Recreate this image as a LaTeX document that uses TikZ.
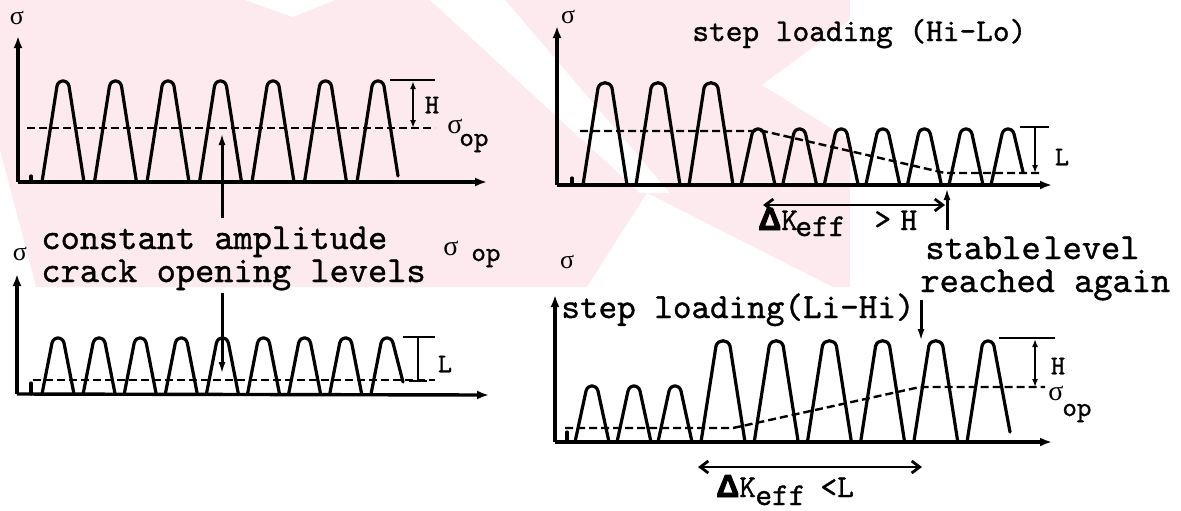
\documentclass[tikz,border=0pt]{standalone}
\usepackage{fontspec}
\newfontfamily\tw{lmmono10-regular.otf}[FakeBold=1]
\newfontfamily\grk{Liberation Serif}
\newfontfamily\grkb{Liberation Sans Bold}[FakeBold=3]
\usetikzlibrary{arrows.meta}
\definecolor{wmark}{RGB}{253,234,238}
\tikzset{
  axis/.style={line width=1.7pt, -{Latex[length=6pt,width=4.5pt]}},
  wave/.style={line width=1.6pt, line join=round, line cap=round},
  opline/.style={line width=1.2pt, dash pattern=on 4pt off 2pt},
  dimline/.style={line width=1.4pt},
  dimarr/.style={line width=1.4pt, {Latex[length=4pt,width=3pt]}-{Latex[length=4pt,width=3pt]}},
  pointer/.style={line width=1.5pt, -{Latex[length=6pt,width=3.5pt]}},
  span/.style={line width=1.4pt, {Straight Barb[length=4pt,width=6pt]}-{Straight Barb[length=4pt,width=6pt]}},
  txt/.style={font=\tw\fontsize{18.3}{20}\selectfont, inner sep=0pt},
  title/.style={font=\tw\fontsize{15.9}{18}\selectfont, inner sep=0pt},
  sig/.style={font=\grk\fontsize{13}{14}\selectfont, inner sep=0pt},
  sigop/.style={font=\grk\fontsize{14}{15}\selectfont, inner sep=0pt},
  opsub/.style={font=\tw\fontsize{13.8}{15}\selectfont, inner sep=0pt},
  dimlbl/.style={font=\tw\fontsize{13.5}{14}\selectfont, inner sep=0pt},
}
% one row of load cycles: centres, base y, top y, half base width, half top width
\newcommand{\cyclerow}[5]{%
  \foreach \c in {#1} {
    \draw[wave] ({\c-#4},#2) -- ({\c-#5},{#3+6})
      .. controls ({\c-#5+2},{#3-1}) and ({\c+#5-2},{#3-1}) .. ({\c+#5},{#3+6})
      -- ({\c+#4},#2);
  }}
\newcommand{\dk}{{\grkb Δ}K}
\begin{document}
\begin{tikzpicture}[x=0.5pt,y=-0.5pt]
\useasboundingbox (0,0) rectangle (1181,510);

% faint background stamp
\fill[wmark] (0,0) -- (850,0) -- (850,287) -- (0,287) -- cycle;
\fill[white] (245,0) -- (335,0) -- (293,17) -- cycle;
\fill[white] (0,150) -- (36,287) -- (0,287) -- cycle;
\fill[white] (430,0) -- (505,0) -- (670,193) -- (640,193) -- cycle;
\fill[white] (587,287) -- (833,287) -- (647,193) -- cycle;
\fill[white] (850,20) -- (850,140) -- (762,85) -- cycle;

% ---------- constant amplitude, high level ----------
\node[sig] (s1) at (17,18) {σ};
\coordinate (o1) at (18,182);
\draw[axis] (o1) -- (18,36);
\draw[axis] (o1) -- (487,182);
\draw[wave] (31,176) -- (31,182);
\cyclerow{63,115.5,168,220.5,273,325.5}{182}{80}{21}{6}
\draw[wave] (357,182) -- (372,86) .. controls (374,79) and (382,79) .. (384,86) -- (398,176);
\draw[opline] (27,128) -- (435,128);
\draw[dimline] (390,80) -- (435,80);
\draw[dimarr] (413,81) -- (413,128);
\node[dimlbl] (h1) at (432,105) {H};
\node[sigop] (op1s) at (455,126) {σ};
\node[opsub, anchor=base west] (op1) at (459,146) {op};

% ---------- annotation between the left panels ----------
\node[sig] (s2) at (20,254) {σ};
\node[txt, anchor=base west] (ca) at (41,249) {constant amplitude};
\node[txt, anchor=base west] (col) at (41,282) {crack opening levels};
\node[sigop] (op2s) at (451,248) {σ};
\node[opsub, anchor=base west] (op2) at (471,261) {op};
\coordinate (up1) at (222,218);
\coordinate (upt) at (222,133);
\draw[pointer] (up1) -- (upt);
\coordinate (dn1) at (222,293);
\coordinate (dnt) at (222,374);
\draw[pointer] (dn1) -- (dnt);

% ---------- constant amplitude, low level ----------
\coordinate (o2) at (17,394);
\draw[axis] (o2) -- (17,274);
\draw[axis] (o2) -- (489,395);
\draw[wave] (31,383) -- (31,394);
\cyclerow{58,99.1,140.2,181.3,222.4,263.5,304.6,345.7}{394}{337}{16}{6}
\draw[wave] (371,394) -- (381,343) .. controls (383,336) and (391,336) .. (393,343) -- (403,382);
\draw[opline] (33,380) -- (435,380);
\draw[dimline] (403,337) -- (435,337);
\draw[dimline] (418,337) -- (418,380);
\draw[dimline] (409,381) -- (427,381);
\node[dimlbl] (l2) at (445,364) {L};

% ---------- step loading Hi-Lo ----------
\node[sig] (s3) at (568,17) {σ};
\coordinate (o3) at (557,185);
\draw[axis] (o3) -- (557,26);
\draw[axis] (o3) -- (1052,185);
\node[title, anchor=base west] (t3) at (692,41) {step loading (Hi-Lo)};
\draw[wave] (572,178) -- (572,185);
\cyclerow{605,658,711}{185}{82}{22}{7}
\cyclerow{758,799.6,841.2,882.8,924.4,966}{185}{128}{17}{6}
\draw[wave] (991,185) -- (1002,134) .. controls (1004,127) and (1012,127) .. (1014,134) -- (1023,172);
\draw[opline] (580,131) -- (763,131) -- (945,173) -- (1041,173);
\draw[dimline] (1020,127) -- (1049,127);
\draw[dimline, -{Latex[length=4pt,width=3pt]}] (1035,127) -- (1035,173);
\node[dimlbl] (l3) at (1062,157) {L};
\coordinate (sa) at (763,205);
\coordinate (sb) at (945,205);
\draw[span] (sa) -- (sb);
\coordinate (st1) at (947,230);
\coordinate (st2) at (947,188);
\draw[pointer] (st1) -- (st2);
\node[title, anchor=base west] (dk1) at (758,230) {\dk};
\node[title, anchor=base west] (e1) at (795,236) {eff};
\node[title, anchor=base west] (g1) at (874,229) {>};
\node[title, anchor=base west] (hh) at (900,230) {H};
\node[txt, anchor=base west] (sl1) at (925,259) {stable};
\node[txt, anchor=base west] (sl2) at (1043,259) {level};
\node[txt, anchor=base west] (ra) at (920,292) {reached again};

% ---------- step loading Li-Hi ----------
\node[sig] (s4) at (567,262) {σ};
\coordinate (o4) at (555,442);
\draw[axis] (o4) -- (555,295);
\draw[axis] (o4) -- (1052,442);
\node[txt, font=\tw\fontsize{17.7}{19}\selectfont, anchor=base west] (t4) at (561,318) {step loading(Li-Hi)};
\coordinate (lh1) at (921,300);
\coordinate (lh2) at (921,341);
\draw[pointer] (lh1) -- (lh2);
\draw[wave] (567,432) -- (567,442);
\cyclerow{592,634,675}{442}{385}{17}{6}
\cyclerow{723,776.2,829.4,882.6,935.8}{442}{340}{22}{7}
\draw[wave] (967,442) -- (982,346) .. controls (984,339) and (992,339) .. (994,346) -- (1010,432);
\draw[opline] (565,428) -- (733,428) -- (920,387) -- (1045,387);
\draw[dimline] (999,338) -- (1055,338);
\draw[dimarr] (1035,339) -- (1035,387);
\node[dimlbl] (h4) at (1058,366) {H};
\node[sigop] (op4s) at (1056,393) {σ};
\node[opsub, anchor=base west] (op4) at (1062,416) {op};
\coordinate (sc) at (698,467);
\coordinate (sd) at (922,467);
\draw[span] (sc) -- (sd);
\node[title, anchor=base west] (dk2) at (716,497) {\dk};
\node[title, anchor=base west] (e2) at (755,505) {eff};
\node[title, anchor=base west] (lt) at (820,497) {<L};
\end{tikzpicture}
\end{document}
